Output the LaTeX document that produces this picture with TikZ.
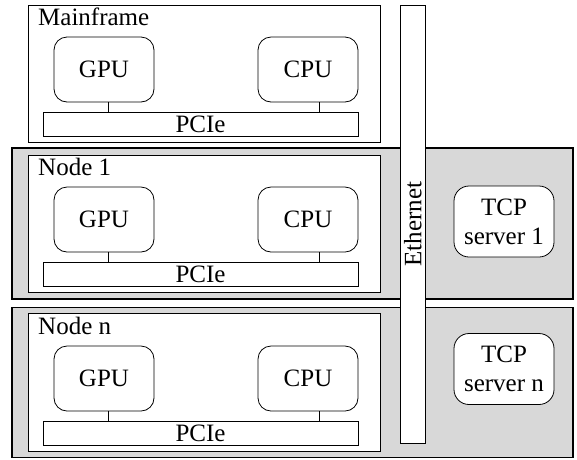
\documentclass[tikz,border=0pt]{standalone}
\usepackage{fontspec}
\setmainfont{Liberation Serif}
\definecolor{panelgray}{RGB}{216,216,216}

\begin{document}
\begin{tikzpicture}[x=1pt, y=-1pt,
		font=\fontsize{25}{29}\selectfont,
		panel/.style={draw, fill=panelgray, line width=1.5pt, minimum width=561pt, minimum height=150pt, inner sep=0pt, outer sep=0pt},
		host/.style={draw, fill=white, line width=1pt, minimum width=352pt, minimum height=137pt, inner sep=0pt, outer sep=0pt},
		unit/.style={draw, fill=white, line width=0.8pt, rounded corners=13pt, minimum width=100pt, minimum height=65pt, inner sep=0pt, outer sep=0pt},
		bus/.style={draw, fill=white, line width=0.8pt, minimum width=315pt, minimum height=24pt, inner sep=0pt, outer sep=0pt},
		server/.style={unit, minimum height=71pt, rounded corners=15pt, align=center},
		tag/.style={anchor=base west, inner sep=0pt},
		link/.style={line width=0.8pt}]
		
		\useasboundingbox (0,0) rectangle (577,459);
		
		% Draw Panels
		\node[panel, minimum height=151pt] (panelA) at (292.5,223.5) {};
		\node[panel] (panelN) at (292.5,382.5) {};
		
		% Draw Hosts
		\node[host] (mainframe) at (204,73.5) {};
		\node[host] (nodeA) at (204,223.5) {};
		\node[host, minimum height=138pt] (nodeN) at (204,382.5) {};
		
		% Labels
		\node[tag] (mainframeLabel) at (38,25) {Mainframe};
		\node[tag] (nodeALabel) at (38,175) {Node 1};
		\node[tag] (nodeNLabel) at (38,334) {Node n};
		
		% Mainframe
		\node[unit] (gpuM) at (104,69.5) {GPU};
		\node[unit] (cpuM) at (308,69.5) {CPU};
		\node[bus] (pcieM) at (200.5,124) {PCIe};
		\draw[link] ([xshift=4pt]gpuM.south) -- ([xshift=4pt]gpuM.south |- pcieM.north);
		\draw[link] ([xshift=11pt]cpuM.south) -- ([xshift=11pt]cpuM.south |- pcieM.north);
		
		% Node 1
		\node[unit] (gpuA) at (104,219.5) {GPU};
		\node[unit] (cpuA) at (308,219.5) {CPU};
		\node[bus] (pcieA) at (200.5,274) {PCIe};
		\draw[link] ([xshift=4pt]gpuA.south) -- ([xshift=4pt]gpuA.south |- pcieA.north);
		\draw[link] ([xshift=11pt]cpuA.south) -- ([xshift=11pt]cpuA.south |- pcieA.north);
		
		% Node n
		\node[unit] (gpuN) at (104,378.5) {GPU};
		\node[unit] (cpuN) at (308,378.5) {CPU};
		\node[bus] (pcieN) at (200.5,433) {PCIe};
		\draw[link] ([xshift=4pt]gpuN.south) -- ([xshift=4pt]gpuN.south |- pcieN.north);
		\draw[link] ([xshift=11pt]cpuN.south) -- ([xshift=11pt]cpuN.south |- pcieN.north);
		
		% Servers
		\node[server] (tcpA) at (504,221.5) {TCP\\server 1};
		\node[server] (tcpN) at (504,369) {TCP\\server n};
		
		% Ethernet
		\node[bus, rotate=90, minimum width=438pt, minimum height=24.5pt] (ethernet) at (412.8,224.2) {Ethernet};
		
		\end{tikzpicture}
\end{document}
